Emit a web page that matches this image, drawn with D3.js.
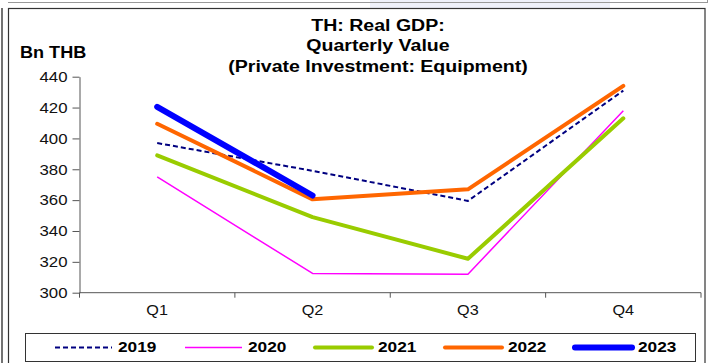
<!DOCTYPE html>
<html><head><meta charset="utf-8">
<script src="https://cdn.jsdelivr.net/npm/d3@7"></script>
<style>body{margin:0;background:#fff;}svg{display:block;font-family:"Liberation Sans",Arial,sans-serif;}</style>
</head><body>
<svg id="c" width="710" height="363"></svg>
<script>
const categories = ["Q1","Q2","Q3","Q4"];
const years = ["2019","2020","2021","2022","2023"];
const v2019 = [397, 379, 359.5, 431];
const v2020 = [375, 312.5, 312, 418];
const v2021 = [389, 349, 322, 413];
const v2022 = [409.5, 360.5, 367, 434];
const v2023 = [420.5, 363];
const yTicks = [300,320,340,360,380,400,420,440];
const titleLines = ["TH: Real GDP:","Quarterly Value","(Private Investment: Equipment)"];
const unitLabel = "Bn THB";

const seriesValues = [v2019, v2020, v2021, v2022, v2023];
const styles = [
  {color:"#000080", width:2, dash:"5,3"},
  {color:"#FF00FF", width:1.5, dash:null},
  {color:"#99CC00", width:4, dash:null},
  {color:"#FF6600", width:4, dash:null},
  {color:"#0000FF", width:6, dash:null}
];
const FONT = "Liberation Sans, Arial, sans-serif";
function stretch(sel, ax, s){ sel.attr("transform", `translate(${ax},0) scale(${s},1) translate(${-ax},0)`); }

const svg = d3.select("#c");
// frames
svg.append("rect").attr("x",370).attr("y",0).attr("width",240).attr("height",8).attr("fill","#eef0fa");
svg.append("line").attr("x1",8).attr("x2",707).attr("y1",2.5).attr("y2",2.5).attr("stroke","#999").attr("stroke-width",1);
svg.append("line").attr("x1",707.5).attr("x2",707.5).attr("y1",0).attr("y2",3).attr("stroke","#999");
svg.append("line").attr("x1",2).attr("x2",2).attr("y1",8).attr("y2",363).attr("stroke","#444").attr("stroke-width",1.5);
svg.append("rect").attr("x",8.5).attr("y",8.5).attr("width",696.5).attr("height",360).attr("fill","none").attr("stroke","#333").attr("stroke-width",1.2);

const L=79.5, R=701, T=76.7, B=292.7;
const x = d3.scaleBand().domain(categories).range([L,R]);
const y = d3.scaleLinear().domain([300,440]).range([B,T]);

// axes
const ya = svg.append("g").attr("transform",`translate(${L},0)`)
  .call(d3.axisLeft(y).tickValues(yTicks).tickSize(7).tickSizeOuter(0).tickPadding(5));
ya.select(".domain").attr("stroke","#555");
ya.selectAll(".tick line").attr("stroke","#555");
ya.selectAll("text").attr("font-size","15px").attr("fill","#111").attr("font-family",FONT)
  .each(function(){ stretch(d3.select(this), -12, 1.12); });

const xa = svg.append("g").attr("transform",`translate(0,${B})`);
xa.append("line").attr("x1",L).attr("x2",R).attr("y1",0).attr("y2",0).attr("stroke","#555");
const bounds = categories.map(c=>x(c)).concat([R]);
xa.selectAll(".tk").data(bounds).enter().append("line")
  .attr("x1",d=>d).attr("x2",d=>d).attr("y1",0).attr("y2",5).attr("stroke","#555");
xa.selectAll(".lb").data(categories).enter().append("text")
  .attr("x",d=>x(d)+x.bandwidth()/2).attr("y",22).attr("text-anchor","middle")
  .attr("font-size","15px").attr("fill","#111").text(d=>d)
  .each(function(d){ stretch(d3.select(this), x(d)+x.bandwidth()/2, 1.08); });

// lines
const line = d3.line().x((d,i)=>x(categories[i])+x.bandwidth()/2).y(d=>y(d));
seriesValues.forEach((vals,i)=>{
  const s = styles[i];
  svg.append("path").datum(vals).attr("d",line).attr("fill","none")
    .attr("stroke",s.color).attr("stroke-width",s.width)
    .attr("stroke-dasharray",s.dash).attr("stroke-linecap", i>=2 ? "round":"butt")
    .attr("stroke-linejoin","round");
});

// title
titleLines.forEach((t,i)=>{
  const tx = svg.append("text").attr("x",378).attr("y",31+i*20.5).attr("text-anchor","middle")
    .attr("font-size","17px").attr("font-weight","bold").attr("fill","#000").text(t);
  stretch(tx, 378, 1.15);
});
const ul = svg.append("text").attr("x",20).attr("y",58).attr("font-size","16px").attr("font-weight","bold").text(unitLabel);
stretch(ul, 20, 1.13);

// legend
svg.append("rect").attr("x",25.5).attr("y",333.5).attr("width",670).attr("height",28).attr("fill","#fff").attr("stroke","#333").attr("stroke-width",1);
years.forEach((yr,i)=>{
  const s = styles[i];
  const lx = 55 + i*130;
  svg.append("line").attr("x1",lx).attr("x2",lx+57).attr("y1",347.5).attr("y2",347.5)
    .attr("stroke",s.color).attr("stroke-width",s.width).attr("stroke-dasharray",s.dash)
    .attr("stroke-linecap", i>=2 ? "round":"butt");
  const lt = svg.append("text").attr("x",lx+63).attr("y",352.5).attr("font-size","15px").attr("font-weight","bold").text(yr);
  stretch(lt, lx+63, 1.15);
});
</script>
</body></html>
